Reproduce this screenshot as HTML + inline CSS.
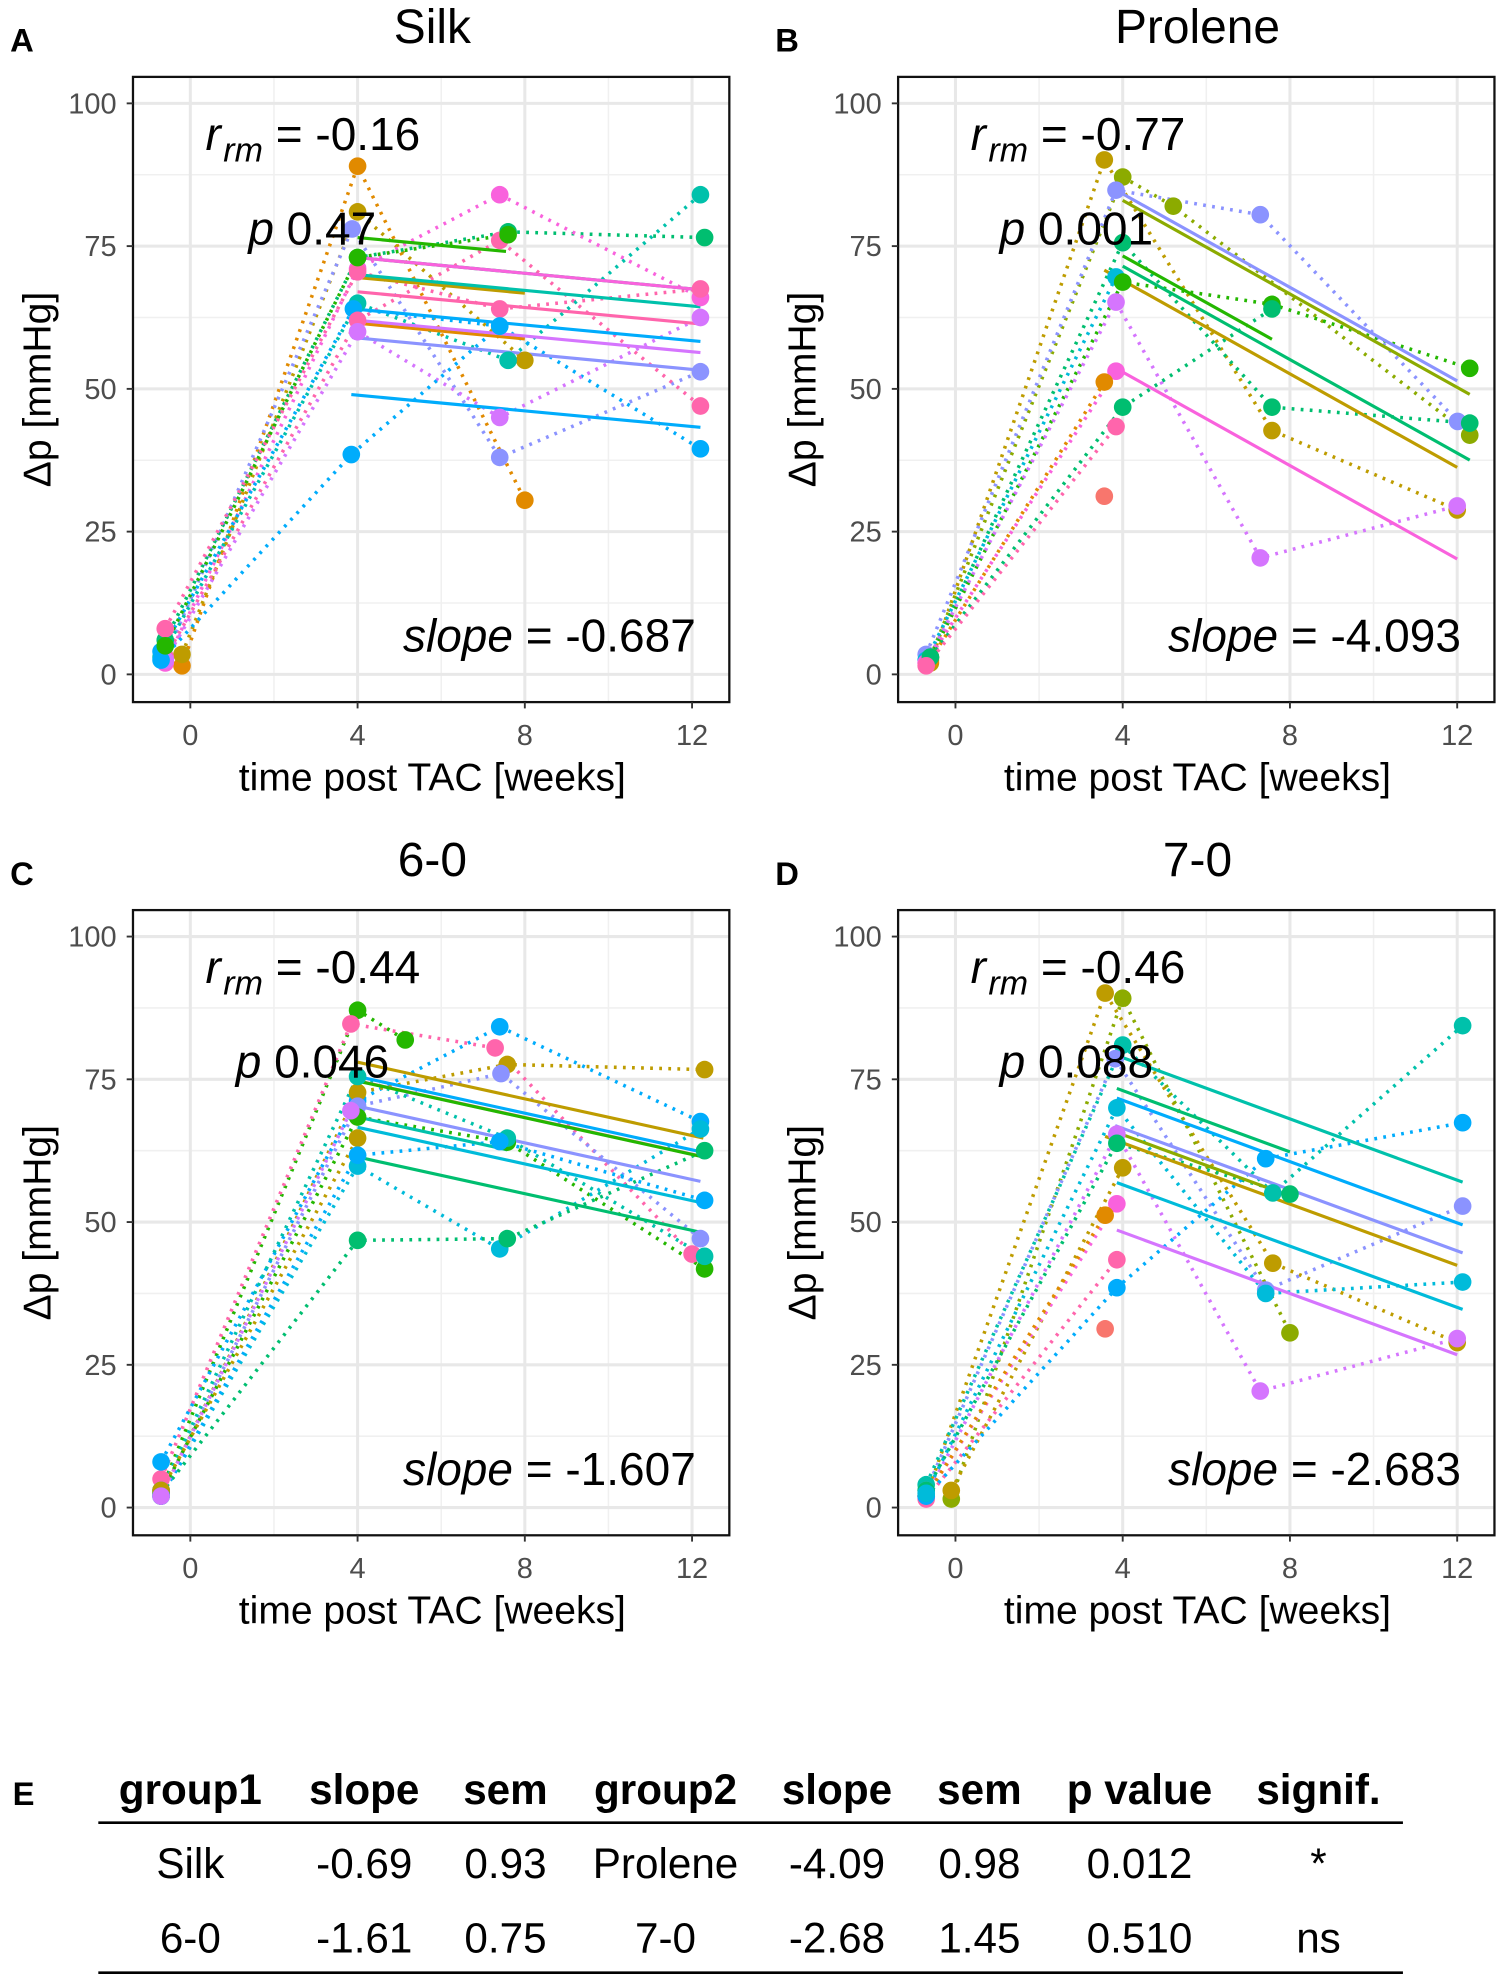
<!DOCTYPE html>
<html><head><meta charset="utf-8">
<style>
html,body{margin:0;padding:0;background:#fff;}
svg{display:block;font-family:"Liberation Sans",Arial,sans-serif;}
</style></head>
<body>
<svg id="fig" width="1500" height="1979" viewBox="0 0 1190 1570" xmlns="http://www.w3.org/2000/svg"></svg>
<script>
// ===== Data =====
const hue = ['#F8766D','#E18A00','#BE9C00','#8CAB00','#24B700','#00BE70','#00C1AB','#00BBDA','#00ACFC','#8B93FF','#D575FE','#F962DD','#FF65AC'];
const panelTitles = ['Silk','Prolene','6-0','7-0'];
const panelLetters = ['A','B','C','D'];
const panelR = ['-0.16','-0.77','-0.44','-0.46'];
const panelP = ['0.47','0.001','0.046','0.088'];
const panelSlopes = [-0.687,-4.093,-1.607,-2.683];
const yTicks = [0,25,50,75,100];
const xTicks = [0,4,8,12];

// Panel A (Silk)
const silkTimes = [[-0.2,4,8],[-0.2,4,8],[-0.6,3.87,7.4,12.2],[-0.6,4,7.6,12.3],[-0.6,4,7.4,12.2],[-0.6,4,7.4,12.2],[-0.7,4,7.6,12.2],[-0.7,3.9,7.4,12.2],[-0.6,4,7.4,12.2],[-0.6,4,7.4,12.2],[-0.7,3.85,7.4],[-0.6,4,7.6]];
const silkValues = [[1.5,89,30.5],[3.5,81,55],[3,78,38,53],[6,73,77.5,76.5],[2,71,84,66],[8,70.5,64,67.5],[3,65,55,84],[4,64,61,39.5],[3,62,76,47],[2.5,60,45,62.5],[2.5,38.5,61],[5,73,77]];
const silkColors = [1,2,9,5,11,12,6,8,12,10,8,4];
const silkRegStart = [61.5,69.5,59,73,73,67,70,64,null,62,49,76.5];
const silkRegEnd = [8,8,12.2,12.2,12.2,12.2,12.2,12.2,null,12.2,12.2,7.55];

// Panel B (Prolene)
const proTimes = [[-0.6,3.56,7.57,12],[-0.6,4,5.21,12.3],[-0.7,3.84,7.29,12.01],[-0.6,4,7.57,12.3],[-0.7,3.84],[-0.6,4,7.57,12.3],[-0.7,3.84,7.29,12],[-0.7,3.84],[-0.6,3.56],[-0.6,4,7.57],[-0.7,3.84],[3.56]];
const proValues = [[2,90.1,42.7,28.8],[3,87.1,82,41.9],[3.5,84.8,80.5,44.3],[3,75.6,46.8,44],[2.5,69.6],[3,68.7,64.8,53.6],[2,65.2,20.4,29.5],[2,53.1],[2.5,51.2],[3,46.8,64],[1.5,43.4],[31.2]];
const proColors = [2,3,9,5,7,4,10,11,1,5,12,0];
const proRegStart = [70.8,83,84.8,71.5,null,73.3,null,53.6,null,null,null,null];
const proRegEnd = [12,12.3,12,12.3,null,7.57,null,12,null,null,null,null];

// Panel C (6-0)
const c60Times = [[-0.7,4,5.14],[-0.7,3.84,7.29,12],[-0.7,4,7.4,12.2],[-0.7,4,7.58,12.3],[-0.7,4,7.43,12.2],[-0.7,4,7.58,12.3],[-0.7,4,7.58,12.3],[-0.7,4,7.4,12.2],[-0.7,4,7.58,12.3],[-0.7,4],[-0.7,4,7.4,12.3],[-0.7,3.84]];
const c60Values = [[3,87.1,81.9],[5,84.7,80.5,44.4],[8,71.2,84.2,67.6],[2,72.7,77.6,76.7],[3,70.3,76,47.1],[2.5,68.4,64,41.8],[3,75.5,64.7,44],[2,59.8,45.3,66.3],[2.5,46.8,47.1,62.5],[3,64.7],[2,61.7,64.1,53.8],[2,69.5]];
const c60Colors = [4,12,8,2,9,4,6,7,5,2,8,10];
const c60RegStart = [null,75,75.5,78,70.3,74.7,68.4,66.6,61.4,null,null,null];
const c60RegEnd = [null,12.2,12.2,12.27,12.2,12.3,7.58,12.2,12.3,null,null,null];

// Panel D (7-0)
const c70Times = [[-0.7,3.58,7.59,12],[-0.1,4,8],[-0.7,4,7.59,12.13],[-0.7,3.82,7.42,12.13],[-0.7,3.86,7.29,12],[-0.7,3.86,8],[-0.1,4],[-0.7,3.86],[-0.7,3.58],[-0.7,3.86],[-0.7,3.86,7.42,12.13],[-0.7,3.86,7.42,12.13],[3.58]];
const c70Values = [[2,90.1,42.8,28.9],[1.5,89.2,30.6],[4,81,55.1,84.4],[3,78.6,38.1,52.8],[2,65.4,20.4,29.6],[3,63.8,54.9],[3,59.5],[2,53.2],[2,51.2],[1.5,43.4],[2,38.5,61.1,67.4],[2.5,70,37.5,39.5],[31.3]];
const c70Colors = [2,3,6,9,10,5,2,11,1,12,8,7,0];
const c70RegStart = [65,65.3,78.8,66.9,48.6,73.4,null,null,null,null,71.7,56.9,null];
const c70RegEnd = [12,8,12.13,12.13,12,8,null,null,null,null,12.13,12.13,null];

// Table
const tableHeaders = ['group1','slope','sem','group2','slope','sem','p value','signif.'];
const tableRow1 = ['Silk','-0.69','0.93','Prolene','-4.09','0.98','0.012','*'];
const tableRow2 = ['6-0','-1.61','0.75','7-0','-2.68','1.45','0.510','ns'];

// ===== Rendering =====
const NS = 'http://www.w3.org/2000/svg';
const svg = document.getElementById('fig');
function mk(tag, attrs, parent){
  const e = document.createElementNS(NS, tag);
  for (const k in attrs) e.setAttribute(k, attrs[k]);
  (parent||svg).appendChild(e);
  return e;
}
const panels = [
  {t:silkTimes,v:silkValues,c:silkColors,rs:silkRegStart,re:silkRegEnd,ox:0,oy:0},
  {t:proTimes,v:proValues,c:proColors,rs:proRegStart,re:proRegEnd,ox:607,oy:0},
  {t:c60Times,v:c60Values,c:c60Colors,rs:c60RegStart,re:c60RegEnd,ox:0,oy:661},
  {t:c70Times,v:c70Values,c:c70Colors,rs:c70RegStart,re:c70RegEnd,ox:607,oy:661}
];
panels.forEach((P, pi) => {
  const ox = P.ox, oy = P.oy;
  const xS = t => ox + 151 + t * 33.17;
  const yS = v => oy + 535 - v * 4.53;
  const g = mk('g', {});
  
  
  const L = ox + 105.5, R = ox + 578.6, T = oy + 61, B = oy + 557;
  const grid = mk('g', {}, g);
  
  
  for (let v = 12.5; v < 100; v += 25) mk('line', {x1:L,x2:R,y1:yS(v),y2:yS(v),stroke:'#f0f0f0','stroke-width':1.2}, grid);
  for (let t = 2; t <= 10; t += 4) mk('line', {x1:xS(t),x2:xS(t),y1:T,y2:B,stroke:'#f0f0f0','stroke-width':1.2}, grid);
  yTicks.forEach(v => mk('line', {x1:L,x2:R,y1:yS(v),y2:yS(v),stroke:'#e8e8e8','stroke-width':2.4}, grid));
  xTicks.forEach(t => mk('line', {x1:xS(t),x2:xS(t),y1:T,y2:B,stroke:'#e8e8e8','stroke-width':2.4}, grid));
  P.t.forEach((ts, i) => {
    if (ts.length < 2) return;
    const pts = ts.map((t, j) => xS(t) + ',' + yS(P.v[i][j])).join(' ');
    const pl = mk('polyline', {points:pts,fill:'none',stroke:hue[P.c[i]],'stroke-width':2.8,'stroke-dasharray':'2.2 5'}, g);
    
    
  });
  P.t.forEach((ts, i) => {
    if (P.rs[i] === null) return;
    const t0 = ts[1], t1 = P.re[i];
    const v0 = P.rs[i], v1 = v0 + panelSlopes[pi] * (t1 - t0);
    const ln = mk('line', {x1:xS(t0),y1:yS(v0),x2:xS(t1),y2:yS(v1),stroke:hue[P.c[i]],'stroke-width':2.5}, g);
    
    
  });
  P.t.forEach((ts, i) => {
    ts.forEach((t, j) => {
      const c = mk('circle', {cx:xS(t),cy:yS(P.v[i][j]),r:7,fill:hue[P.c[i]]}, g);
      
      
    });
  });
  const bd = mk('rect', {x:L,y:T,width:R-L,height:B-T,fill:'none',stroke:'#111','stroke-width':1.8}, g);
  
  
  yTicks.forEach(v => {
    mk('line', {x1:L-5,x2:L,y1:yS(v),y2:yS(v),stroke:'#333','stroke-width':1.5}, g);
    const tx = mk('text', {x:L-13,y:yS(v)+8,'text-anchor':'end','font-size':23,fill:'#4d4d4d'}, g);
    tx.textContent = v;
    
    
  });
  xTicks.forEach(t => {
    mk('line', {x1:xS(t),x2:xS(t),y1:B,y2:B+5,stroke:'#333','stroke-width':1.5}, g);
    const tx = mk('text', {x:xS(t),y:oy+591,'text-anchor':'middle','font-size':23,fill:'#4d4d4d'}, g);
    tx.textContent = t;
    
    
  });
  const yt = mk('text', {x:0,y:0,'text-anchor':'middle','font-size':31,fill:'#000',transform:`translate(${ox+40},${oy+309}) rotate(-90)`}, g);
  yt.textContent = 'Δp [mmHg]';
  
  
  const xt = mk('text', {x:ox+343,y:oy+627,'text-anchor':'middle','font-size':31,fill:'#000'}, g);
  xt.textContent = 'time post TAC [weeks]';
  
  
  const ti = mk('text', {x:ox+343,y:oy+34,'text-anchor':'middle','font-size':38,fill:'#000'}, g);
  ti.textContent = panelTitles[pi];
  
  
  const le = mk('text', {x:ox+8,y:oy+41,'font-size':26,'font-weight':'bold',fill:'#000'}, g);
  le.textContent = panelLetters[pi];
  
  
  const rt = mk('text', {x:ox+163,y:oy+119,'font-size':36.5,fill:'#000'}, g);
  
  
  const s1 = mk('tspan', {'font-style':'italic'}, rt); s1.textContent = 'r';
  const s2 = mk('tspan', {'font-style':'italic','font-size':27,dy:9,dx:2}, rt); s2.textContent = 'rm';
  const s3 = mk('tspan', {dy:-9}, rt); s3.textContent = ' = ' + panelR[pi];
  const pX = ox + (pi === 2 ? 187 : (pi % 2 ? 186 : 197));
  const pt = mk('text', {x:pX,y:oy+194,'font-size':36.5,fill:'#000'}, g);
  
  
  const p1 = mk('tspan', {'font-style':'italic'}, pt); p1.textContent = 'p';
  const p2 = mk('tspan', {}, pt); p2.textContent = ' ' + panelP[pi];
  const st = mk('text', {x:ox+552,y:oy+517,'text-anchor':'end','font-size':36.5,fill:'#000'}, g);
  
  
  const q1 = mk('tspan', {'font-style':'italic'}, st); q1.textContent = 'slope';
  const q2 = mk('tspan', {}, st); q2.textContent = ' = ' + panelSlopes[pi].toFixed(3);
});

// Table E
const colX = [151,289,401,528,664,777,904,1046];
const tg = mk('g', {});


const eL = mk('text', {x:10,y:1432,'font-size':26,'font-weight':'bold',fill:'#000'}, tg);
eL.textContent = 'E';


tableHeaders.forEach((h, i) => {
  const t = mk('text', {x:colX[i],y:1431,'text-anchor':'middle','font-size':33.5,'font-weight':'bold',fill:'#000'}, tg);
  t.textContent = h;
  
  
});
[tableRow1, tableRow2].forEach((row, r) => {
  row.forEach((cell, i) => {
    const t = mk('text', {x:colX[i],y:1490 + r*59,'text-anchor':'middle','font-size':33.5,fill:'#000'}, tg);
    t.textContent = cell;
    
    
  });
});
mk('line', {x1:78,x2:1113,y1:1446,y2:1446,stroke:'#000','stroke-width':2}, tg);
mk('line', {x1:78,x2:1113,y1:1565,y2:1565,stroke:'#000','stroke-width':2}, tg);
</script>
</body></html>
